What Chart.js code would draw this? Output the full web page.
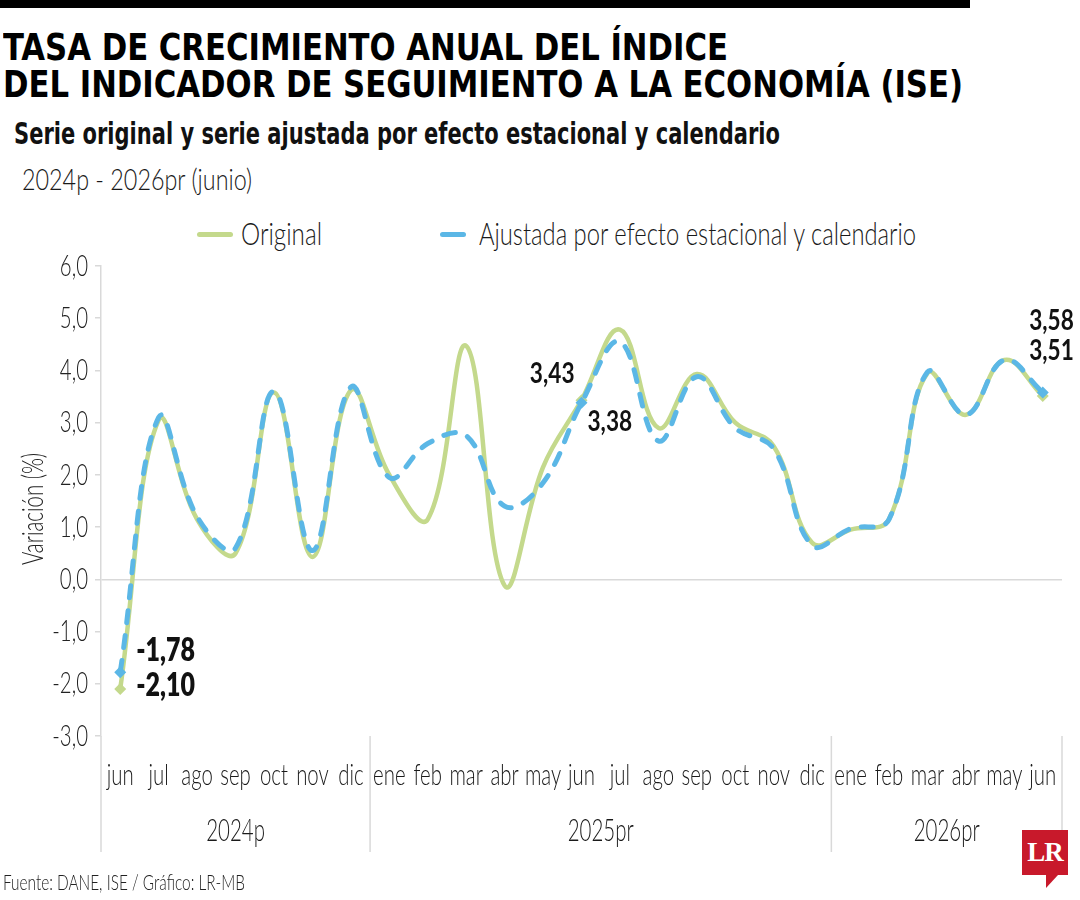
<!DOCTYPE html>
<html lang="es">
<head>
<meta charset="utf-8">
<title>ISE - tasa de crecimiento anual</title>
<script src="https://cdn.jsdelivr.net/npm/chart.js@4.4.1/dist/chart.umd.min.js"></script>
<style>
  html, body { margin: 0; padding: 0; background: #fff; }
  body { width: 1080px; height: 900px; position: relative; overflow: hidden;
         font-family: 'DejaVu Sans Condensed', sans-serif; color: #111; }
  .topbar { position: absolute; left: 0; top: 0; width: 970px; height: 8px; background: #000; }
  .txt { position: absolute; white-space: nowrap; line-height: 1; transform-origin: 0 0; }
  .title { font-weight: bold; font-size: 38px; color: #000; }
  .sub { font-weight: bold; font-size: 30px; color: #111; }
  .light { font-family: 'Lato', sans-serif; font-weight: 300; }
  .date { font-size: 30px; color: #1a1a1a; }
  .leg { font-size: 31px; color: #1a1a1a; }
  .foot { font-size: 22px; color: #222; }
  .swatch { position: absolute; height: 5px; border-radius: 3px; }
  #wrap { position: absolute; left: 0; top: 200px; width: 1080px; height: 700px; }
  .logo { position: absolute; left: 1022px; top: 830px; width: 46px; height: 45px; background: #c8192b;
          color: #fff; font: bold 27px 'Liberation Serif', 'DejaVu Serif', serif; text-align: center; line-height: 45px; letter-spacing: -1px; }
  .logo-tail { position: absolute; left: 1046px; top: 875px; width: 0; height: 0;
               border-right: 12px solid transparent; border-top: 13px solid #c8192b; }
</style>
</head>
<body>
<div class="topbar"></div>
<div class="txt title" data-w="725" style="left:3px; top:28px;">TASA DE CRECIMIENTO ANUAL DEL ÍNDICE</div>
<div class="txt title" data-w="960" style="left:3px; top:65px;">DEL INDICADOR DE SEGUIMIENTO A LA ECONOMÍA (ISE)</div>
<div class="txt sub" data-w="766" style="left:14px; top:119px;">Serie original y serie ajustada por efecto estacional y calendario</div>
<div class="txt light date" data-w="230" style="left:22px; top:163px;">2024p - 2026pr (junio)</div>

<div class="swatch" style="left:197px; top:232px; width:36px; background:#c4d98c;"></div>
<div class="txt light leg" data-w="81" style="left:241px; top:218px;">Original</div>
<div class="swatch" style="left:440px; top:232px; width:26px; background:#5bb7e6;"></div>
<div class="txt light leg" data-w="437" style="left:479px; top:218px;">Ajustada por efecto estacional y calendario</div>

<div id="wrap"><canvas id="iseChart"></canvas></div>

<div class="txt light foot" data-w="242" style="left:3px; top:871px;">Fuente: DANE, ISE / Gráfico: LR-MB</div>
<div class="logo">LR</div>
<div class="logo-tail"></div>

<script>
// Meses (jun 2024 - jun 2026)
const months = ['jun', 'jul', 'ago', 'sep', 'oct', 'nov', 'dic',
  'ene', 'feb', 'mar', 'abr', 'may', 'jun', 'jul', 'ago', 'sep', 'oct', 'nov', 'dic',
  'ene', 'feb', 'mar', 'abr', 'may', 'jun'];
const years = ['2024p', '2025pr', '2026pr'];
const yearMonths = [7, 12, 6];

// Variación anual (%)
const original = [-2.10, 3.05, 1.15, 0.50, 3.58, 0.43, 3.62,
  2.00, 1.15, 4.47, -0.12, 2.15, 3.43, 4.78, 2.90, 3.93, 3.00, 2.55, 0.70,
  0.95, 1.15, 3.95, 3.15, 4.20, 3.51];
const ajustada = [-1.78, 3.10, 1.20, 0.60, 3.60, 0.55, 3.68,
  1.95, 2.60, 2.75, 1.40, 1.85, 3.38, 4.55, 2.65, 3.88, 2.90, 2.50, 0.65,
  0.97, 1.15, 3.97, 3.15, 4.20, 3.58];

const yMin = -3;
const yMax = 6;
const yStep = 1;
const markedPoints = [0, 12, 24];

const GREEN = '#c4d98c';
const BLUE = '#5bb7e6';
const LIGHT = "300 30px 'Lato', sans-serif";
const SQ = 0.68; // condensed look for the light labels

const comma = (v, d) => v.toFixed(d).replace('.', ',');

// where the value labels sit relative to their point
const valueLabels = [
  { i: 0, ds: 1, dx: 16, dy: -22, align: 'left', size: 32 },
  { i: 0, ds: 0, dx: 16, dy: -3, align: 'left', size: 32 },
  { i: 12, ds: 0, dx: -7, dy: -27, align: 'right', size: 29 },
  { i: 12, ds: 1, dx: 6, dy: 19, align: 'left', size: 29 },
  { i: 24, ds: 1, dx: 31, dy: -72, align: 'right', size: 29 },
  { i: 24, ds: 0, dx: 31, dy: -45, align: 'right', size: 29 }
];

function squeezed(ctx, text, x, y, sx, align, angle) {
  ctx.save();
  ctx.translate(x, y);
  if (angle) ctx.rotate(angle);
  ctx.scale(sx, 1);
  ctx.textAlign = align;
  ctx.fillText(text, 0, 0);
  ctx.restore();
}

const extras = {
  id: 'extras',
  afterDraw(chart) {
    const { ctx, chartArea, scales } = chart;
    const x = scales.x;
    const y = scales.y;
    const bottom = chartArea.bottom;
    ctx.save();
    ctx.strokeStyle = '#d9d9d9';
    ctx.lineWidth = 1.5;

    // separators between years and the axis extension
    let start = 0;
    const edges = [chartArea.left];
    yearMonths.forEach((n) => {
      start += n;
      const a = x.getPixelForValue(start - 1);
      const b = start < months.length ? x.getPixelForValue(start) : a + (a - x.getPixelForValue(start - 2));
      edges.push((a + b) / 2);
    });
    edges.forEach((ex) => {
      ctx.beginPath();
      ctx.moveTo(ex, bottom);
      ctx.lineTo(ex, bottom + 116);
      ctx.stroke();
    });

    ctx.textBaseline = 'middle';

    // y tick labels
    ctx.fillStyle = '#222';
    ctx.font = LIGHT;
    y.ticks.forEach((t) => {
      squeezed(ctx, comma(t.value, 1), chartArea.left - 13, y.getPixelForValue(t.value), SQ, 'right');
    });
    // y title
    squeezed(ctx, 'Variación (%)', 33, (chartArea.top + chartArea.bottom) / 2 + 8, SQ, 'center', -Math.PI / 2);

    // month labels
    ctx.fillStyle = '#1a1a1a';
    months.forEach((m, i) => {
      squeezed(ctx, x.getLabelForValue(i), x.getPixelForValue(i), bottom + 39, SQ, 'center');
    });

    // year labels
    ctx.font = "300 31px 'Lato', sans-serif";
    years.forEach((yr, k) => {
      squeezed(ctx, yr, (edges[k] + edges[k + 1]) / 2, bottom + 95, 0.66, 'center');
    });

    // value labels
    ctx.fillStyle = '#111';
    valueLabels.forEach((l) => {
      const pt = chart.getDatasetMeta(l.ds).data[l.i];
      const v = chart.data.datasets[l.ds].data[l.i];
      ctx.font = (l.i === 0 ? '800 ' : '700 ') + l.size + "px 'Lato', sans-serif";
      squeezed(ctx, comma(v, 2), pt.x + l.dx, pt.y + l.dy, 0.78, l.align);
    });
    ctx.restore();
  }
};

const pointRadius = months.map((m, i) => (markedPoints.includes(i) ? 6 : 0));

new Chart(document.getElementById('iseChart'), {
  type: 'line',
  data: {
    labels: months,
    datasets: [
      {
        label: 'Original',
        data: original,
        borderColor: GREEN,
        backgroundColor: GREEN,
        borderWidth: 4.5,
        tension: 0.4,
        pointStyle: 'rectRot',
        pointRadius: pointRadius,
        pointBorderWidth: 0,
        order: 2
      },
      {
        label: 'Ajustada por efecto estacional y calendario',
        data: ajustada,
        borderColor: BLUE,
        backgroundColor: BLUE,
        borderWidth: 5,
        borderDash: [12, 13],
        borderCapStyle: 'round',
        tension: 0.4,
        pointStyle: 'rectRot',
        pointRadius: pointRadius,
        pointBorderWidth: 0,
        order: 1
      }
    ]
  },
  options: {
    responsive: true,
    maintainAspectRatio: false,
    animation: false,
    layout: { padding: { top: 66, right: 18, left: 0, bottom: 0 } },
    plugins: {
      legend: { display: false },
      tooltip: { enabled: false }
    },
    scales: {
      x: {
        offset: true,
        grid: { display: false },
        border: { display: false },
        ticks: { display: false, autoSkip: false },
        afterFit(scale) { scale.height = 164; }
      },
      y: {
        min: yMin,
        max: yMax,
        border: { color: '#d9d9d9', width: 1.5 },
        grid: {
          color: (c) => (c.tick && c.tick.value === 0 ? '#d9d9d9' : 'rgba(0,0,0,0)'),
          lineWidth: 1.5,
          tickColor: '#d9d9d9',
          tickLength: 6
        },
        ticks: { display: false, stepSize: yStep },
        afterFit(scale) { scale.width = 101; }
      }
    }
  },
  plugins: [extras]
});

// squeeze the HTML texts to the widths of the original layout
document.querySelectorAll('.txt[data-w]').forEach((el) => {
  const w = el.getBoundingClientRect().width;
  const target = parseFloat(el.dataset.w);
  if (w > 0) el.style.transform = 'scaleX(' + (target / w) + ')';
});
</script>
</body>
</html>
